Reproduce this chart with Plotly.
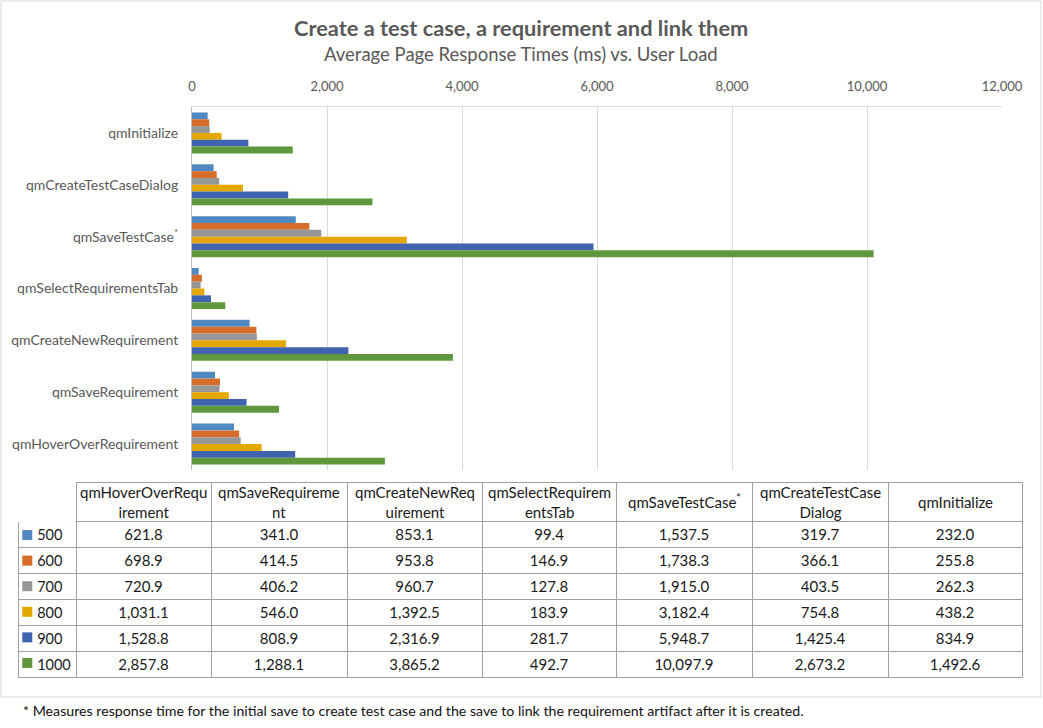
import plotly.graph_objects as go

# ---------------- data ----------------
categories = ["qmHoverOverRequirement", "qmSaveRequirement", "qmCreateNewRequirement",
              "qmSelectRequirementsTab", "qmSaveTestCase", "qmCreateTestCaseDialog", "qmInitialize"]
axis_labels = ["qmHoverOverRequirement", "qmSaveRequirement", "qmCreateNewRequirement",
               "qmSelectRequirementsTab", "qmSaveTestCase<sup>*</sup>", "qmCreateTestCaseDialog", "qmInitialize"]
header_labels = ["qmHoverOverRequ<br>irement", "qmSaveRequireme<br>nt", "qmCreateNewReq<br>uirement",
                 "qmSelectRequirem<br>entsTab", "qmSaveTestCase<sup>*</sup>", "qmCreateTestCase<br>Dialog",
                 "qmInitialize"]
loads = ["500", "600", "700", "800", "900", "1000"]

v500 = [621.8, 341.0, 853.1, 99.4, 1537.5, 319.7, 232.0]
v600 = [698.9, 414.5, 953.8, 146.9, 1738.3, 366.1, 255.8]
v700 = [720.9, 406.2, 960.7, 127.8, 1915.0, 403.5, 262.3]
v800 = [1031.1, 546.0, 1392.5, 183.9, 3182.4, 754.8, 438.2]
v900 = [1528.8, 808.9, 2316.9, 281.7, 5948.7, 1425.4, 834.9]
v1000 = [2857.8, 1288.1, 3865.2, 492.7, 10097.9, 2673.2, 1492.6]
series = [v500, v600, v700, v800, v900, v1000]

x_ticks = [0, 2000, 4000, 6000, 8000, 10000, 12000]

colors = ["#5089C1", "#D66D2B", "#969696", "#E3A800", "#3F63AE", "#5F983C"]

W, H = 1043, 728
FONT = "Lato"

def px(x):
    return x / W

def py(y):
    return 1 - y / H

fig = go.Figure()

for load, vals, col in zip(loads, series, colors):
    fig.add_trace(go.Bar(
        y=axis_labels, x=vals, name=load, orientation="h",
        marker=dict(color=col, line=dict(width=0)),
        showlegend=False, xaxis="x", yaxis="y",
    ))

# ---------------- table ----------------
TBL_L, TBL_R = 18, 1022
col_w = [58, 135, 136, 135, 134, 136, 136, 134]
row_headers = ["\u00a0\u00a0\u00a0" + l for l in loads]
cell_values = [row_headers]
for ci in range(len(categories)):
    cell_values.append([f"{s[ci]:,.1f}" for s in series])

fig.add_trace(go.Table(
    domain=dict(x=[px(TBL_L), px(TBL_R)], y=[py(700), py(482)]),
    columnwidth=col_w,
    header=dict(
        values=[""] * 8,
        fill=dict(color="white"),
        line=dict(color=["white"] + ["#a0a0a0"] * 7, width=1),
        height=39,
        font=dict(family=FONT, size=15, color="#1a1a1a"),
    ),
    cells=dict(
        values=cell_values,
        fill=dict(color=["rgba(0,0,0,0)"] + ["white"] * 7),
        line=dict(color="#a0a0a0", width=1),
        align=["left"] + ["center"] * 7,
        height=26,
        font=dict(family=FONT, size=[14.5] + [15] * 7, color="#1a1a1a"),
    ),
))

# legend keys in the row-header column
fig.add_trace(go.Scatter(
    x=[0.16] * len(loads), y=loads, mode="markers", xaxis="x2", yaxis="y2",
    marker=dict(symbol="square", size=10, color=colors, line=dict(width=0)),
    showlegend=False, hoverinfo="skip",
))

# header labels (centered multi-line text)
annotations = []
total = sum(col_w)
cum = TBL_L
for i, w in enumerate(col_w):
    wpx = w / total * (TBL_R - TBL_L)
    if i > 0:
        annotations.append(dict(
            text=header_labels[i - 1], xref="paper", yref="paper",
            x=px(cum + wpx / 2), y=py(501.5), xanchor="center", yanchor="middle",
            align="center", showarrow=False,
            font=dict(family=FONT, size=15, color="#1a1a1a"),
        ))
    cum += wpx

annotations += [
    dict(text="<b>Create a test case, a requirement and link them</b>", xref="paper", yref="paper",
         x=px(521), y=py(28), xanchor="center", yanchor="middle", showarrow=False,
         font=dict(size=21.8, color="#595959", family=FONT)),
    dict(text="Average Page Response Times (ms) vs. User Load", xref="paper", yref="paper",
         x=px(521), y=py(54), xanchor="center", yanchor="middle", showarrow=False,
         font=dict(size=18.5, color="#595959", family=FONT)),
    dict(text="* Measures response time for the initial save to create test case and the save to link the requirement artifact after it is created.",
         xref="paper", yref="paper", x=px(21), y=py(710), xanchor="left", yanchor="middle",
         showarrow=False, font=dict(size=14.2, color="#111111", family=FONT)),
]

fig.update_layout(
    width=W, height=H,
    margin=dict(l=0, r=0, t=0, b=0, pad=0, autoexpand=False),
    paper_bgcolor="white", plot_bgcolor="rgba(0,0,0,0)",
    barmode="group", bargap=0.21, bargroupgap=0,
    font=dict(family=FONT, color="#595959"),
    xaxis=dict(
        domain=[px(192), px(1002)], range=[0, 12000], side="top",
        tickvals=x_ticks, tickformat=",", showgrid=True, gridcolor="#d9d9d9",
        showline=True, linecolor="#d9d9d9", zeroline=False, automargin=False,
        tickfont=dict(size=13, color="#595959"), ticks="", ticklabelstandoff=10,
        anchor="y",
    ),
    yaxis=dict(
        domain=[py(470), py(107)], autorange="reversed",
        categoryorder="array", categoryarray=axis_labels[::-1],
        showline=True, linecolor="#bfbfbf", showgrid=False, ticks="", automargin=False,
        tickfont=dict(size=14, color="#595959"), ticklabelstandoff=10, anchor="x",
    ),
    xaxis2=dict(domain=[px(18), px(76)], range=[0, 1], visible=False, anchor="y2", fixedrange=True),
    yaxis2=dict(domain=[py(677), py(521)], categoryorder="array", categoryarray=loads,
                autorange="reversed", visible=False, anchor="x2", fixedrange=True),
    shapes=[dict(type="rect", xref="paper", yref="paper",
                 x0=px(1), x1=px(1041), y0=py(697), y1=py(1),
                 line=dict(color="#d9d9d9", width=1))],
    annotations=annotations,
)

fig.write_html("out.html")
